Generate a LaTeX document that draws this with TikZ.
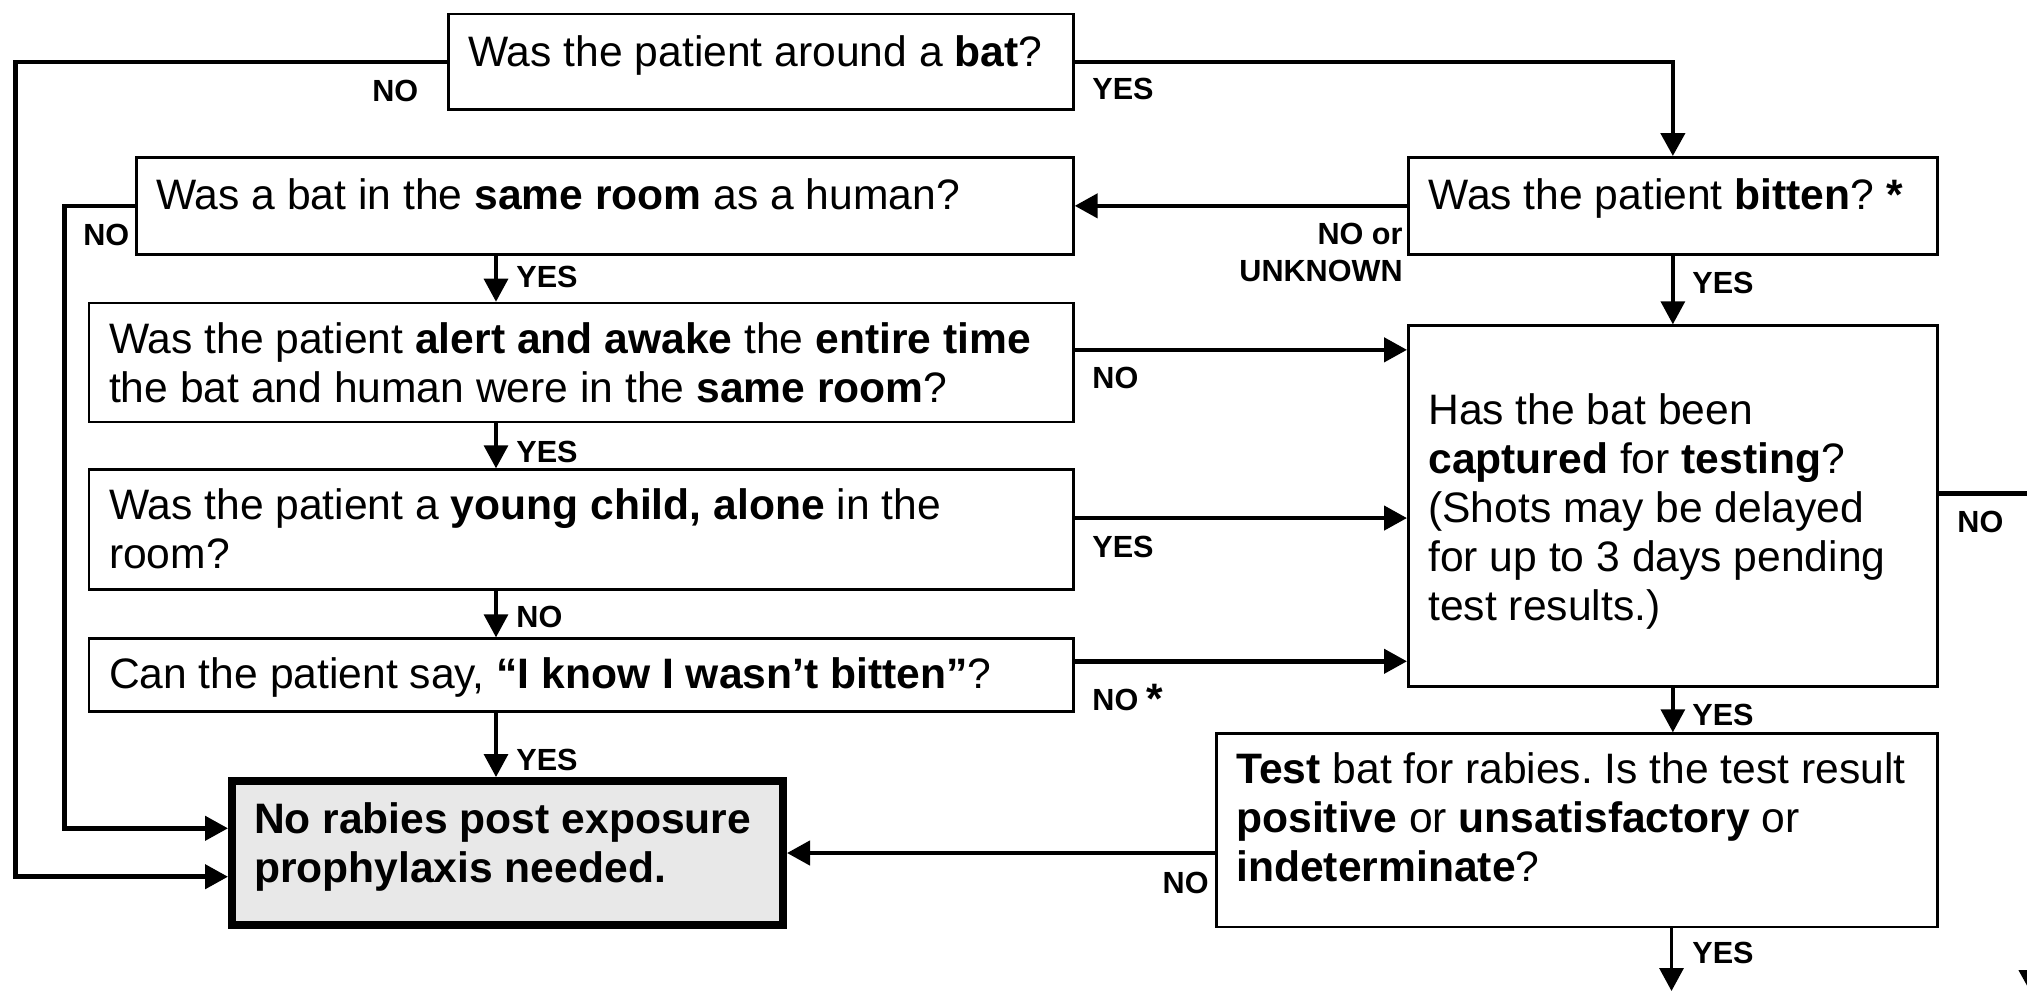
\documentclass[tikz,border=0pt]{standalone}
\usepackage{fontspec}
\setmainfont{Liberation Sans}
\usepackage{xcolor}
\usepackage{tikz}
\usetikzlibrary{arrows.meta}
\definecolor{boxgray}{RGB}{232, 232, 232}
\newcommand{\boxfont}{\fontsize{21.3pt}{24.5pt}\selectfont}
\newcommand{\lblfont}{\fontsize{15.3pt}{18.5pt}\selectfont\bfseries}
\frenchspacing
\tikzset{
	qbox/.style={draw, line width=1.35pt, fill=white, inner xsep=10pt, inner ysep=0pt, align=left, anchor=north west, font=\boxfont,
		execute at begin node={\spaceskip=0pt\xspaceskip=0pt}},
	lbl/.style={inner sep=0pt, anchor=base west, font=\lblfont},
	conn/.style={line width=2.25pt, -{Triangle[length=11.5pt, width=12pt]}},
	yesarr/.style={line width=1.65pt, -{Triangle[length=11.5pt, width=12pt]}}
}
\begin{document}
\begin{tikzpicture}[x=0.5pt, y=-0.5pt]
					\useasboundingbox (0,0) rectangle (2027,990);
					\clip (0,0) rectangle (2027,990);
					
					\node[qbox, text width=292.5pt, text height=26.15pt, text depth=21.65pt] (bat) at (447,12.7) {Was the patient around a \textbf{bat}?};
					\node[qbox, text width=448.5pt, text height=26.15pt, text depth=22.35pt] (room) at (135,156) {Was a bat in the \textbf{same room} as a human?};
					\node[qbox, text width=244.5pt, text height=26.15pt, text depth=22.35pt] (bitten) at (1407,156) {Was the patient \textbf{bitten}? \textbf{*}};
					\node[qbox, text width=472.15pt, text height=25pt, text depth=34.5pt] (alert) at (87.7,301.7) {Was the patient \textbf{alert and awake} the \textbf{entire time}\\the bat and human were in the \textbf{same room}?};
					\node[qbox, text width=472.15pt, text height=24.85pt, text depth=35.15pt] (young) at (87.7,468.3) {Was the patient a \textbf{young child, alone} in the\\room?};
					\node[qbox, text width=472.15pt, text height=24.7pt, text depth=11.65pt] (can) at (87.7,637.3) {Can the patient say, \textbf{“I know I wasn’t bitten”}?};
					\node[qbox, text width=244.5pt, text height=49.35pt, text depth=131pt] (capt) at (1407,324.3) {Has the bat been\\\textbf{captured} for \textbf{testing}?\\(Shots may be delayed\\for up to 3 days pending\\test results.)};
					\node[qbox, text width=340.5pt, text height=24.7pt, text depth=72pt] (test) at (1215,732.3) {\textbf{Test} bat for rabies. Is the test result\\\textbf{positive} or \textbf{unsatisfactory} or\\\textbf{indeterminate}?};
					\node[qbox, line width=4pt, fill=boxgray, inner xsep=11pt, text width=253.5pt, text height=26pt, text depth=46pt, font=\boxfont\bfseries] (final) at (228,777) {No rabies post exposure\\prophylaxis needed.};
					
					\coordinate (railA) at (15.4,0);
					\coordinate (railB) at (64.5,0);
					\coordinate (colL) at (496,0);
					\coordinate (exitA) at (1671.5,991);
					\coordinate (exitB) at (2031,993);
					
					\draw[conn] (bat.west) -| ([yshift=-11.85pt]final.west -| railA) -- ([yshift=-11.85pt]final.west);
					\draw[conn] (room.west) -| ([yshift=12.35pt]final.west -| railB) -- ([yshift=12.35pt]final.west);
					\draw[conn] (bat.east) -| (bitten.north);
					\draw[conn] (bitten.west) -- (room.east);
					\draw[yesarr] (room.south -| colL) -- (alert.north -| colL);
					\draw[yesarr] (alert.south -| colL) -- (young.north -| colL);
					\draw[yesarr] (young.south -| colL) -- (can.north -| colL);
					\draw[yesarr] (can.south -| colL) -- (final.north -| colL);
					\draw[conn] ([yshift=6.35pt]alert.east) -- ([yshift=6.35pt]alert.east -| capt.west);
					\draw[conn] ([yshift=5.8pt]young.east) -- ([yshift=5.8pt]young.east -| capt.west);
					\draw[conn] ([yshift=6.85pt]can.east) -- ([yshift=6.85pt]can.east -| capt.west);
					\draw[yesarr] (bitten.south) -- (capt.north);
					\draw[yesarr] (capt.south) -- (capt.south |- test.north);
					\draw[conn] (final.east -| test.west) -- (final.east);
					\draw[yesarr] (test.south -| exitA) -- (exitA);
					\draw[conn] ([yshift=6.35pt]capt.east) -| (exitB);
					
					\node[lbl] (noBat) at (372,102) {NO};
					\node[lbl] (yesBat) at (1092,100) {YES};
					\node[lbl] (noRoom) at (83,245) {NO};
					\node[lbl] (yesRoom) at (516,287) {YES};
					\node[lbl, anchor=north east, align=right] (noBitten) at (1403,223) {NO or\\UNKNOWN};
					\node[lbl] (yesBitten) at (1692,293) {YES};
					\node[lbl] (noAlert) at (1092,388) {NO};
					\node[lbl] (yesAlert) at (516,462) {YES};
					\node[lbl] (yesYoung) at (1092,557) {YES};
					\node[lbl] (noYoung) at (516,627) {NO};
					\node[lbl] (noCan) at (1092,710) {NO {\boxfont\raisebox{-1.5pt}{*}}};
					\node[lbl] (yesCan) at (516,770) {YES};
					\node[lbl] (yesCapt) at (1692,725) {YES};
					\node[lbl] (noCapt) at (1957,532) {NO};
					\node[lbl, anchor=base east] (noTest) at (1209,893) {NO};
					\node[lbl] (yesTest) at (1692,963) {YES};
				\end{tikzpicture}
\end{document}
